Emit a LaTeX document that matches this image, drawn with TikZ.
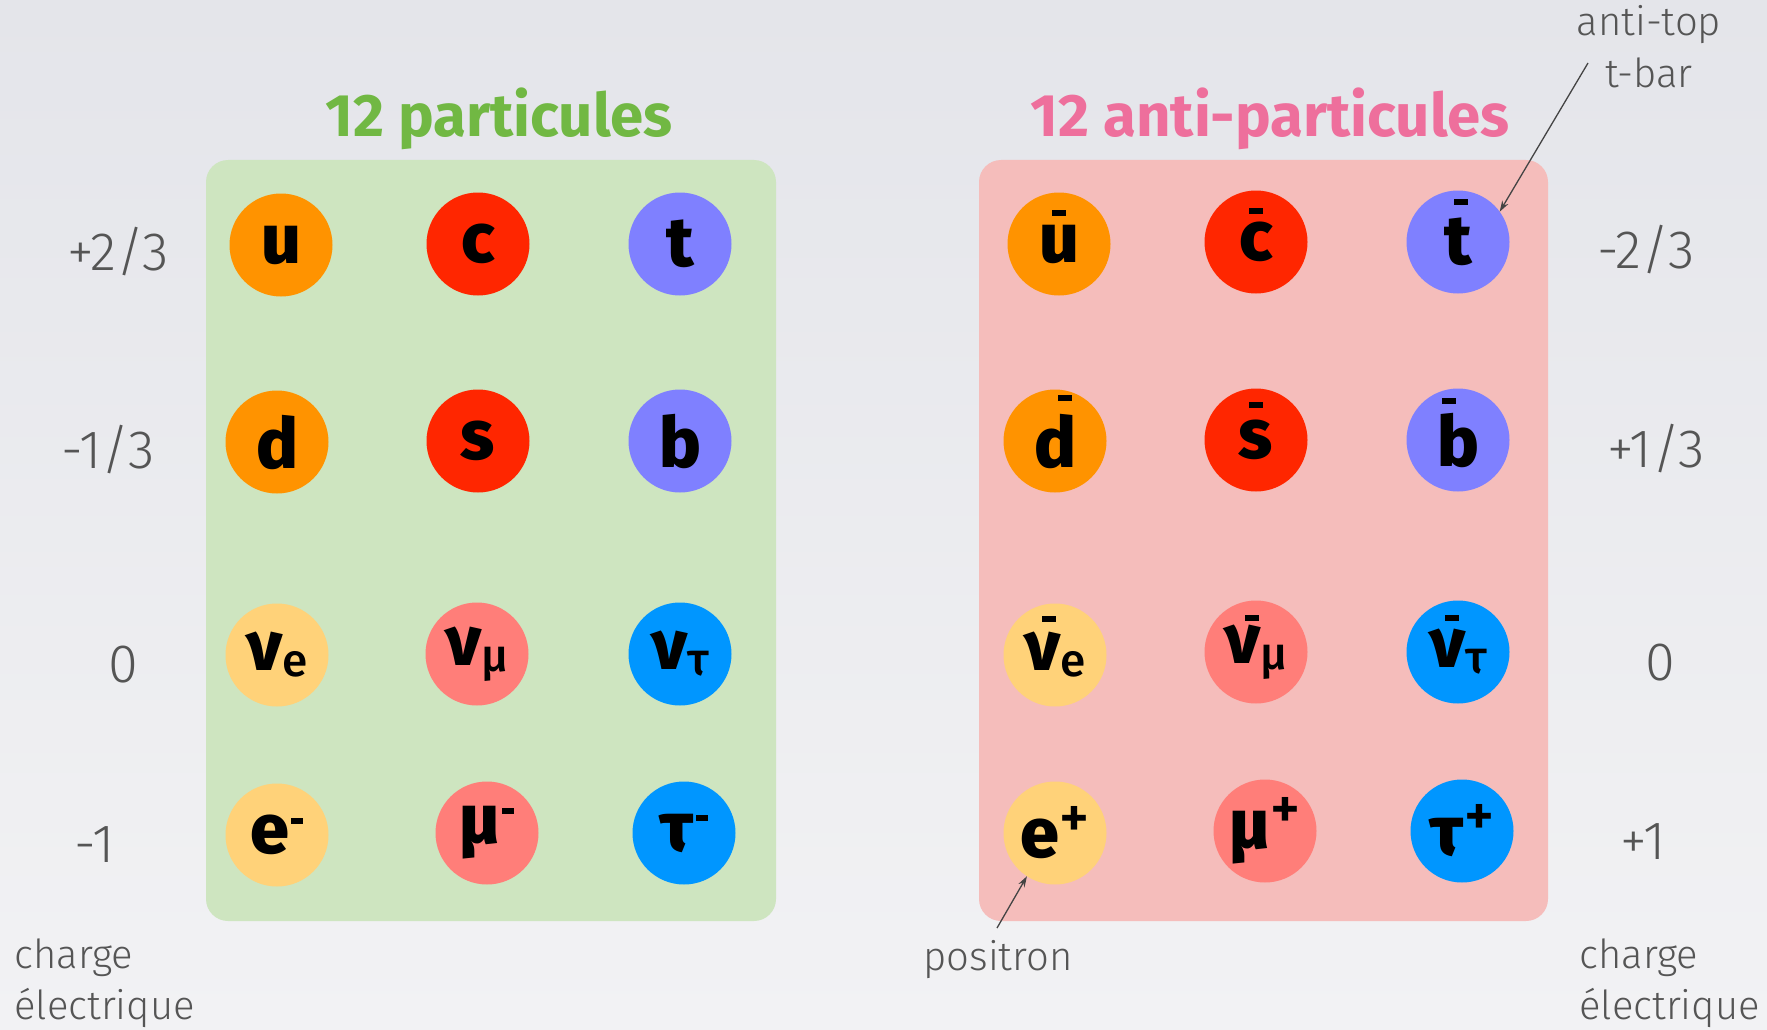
\documentclass[tikz,border=0pt]{standalone}
\usepackage{fontspec}
\setmainfont{Fira Sans Light}
\newfontfamily\pfont{Fira Sans ExtraBold}
\newfontfamily\rfont{Fira Sans Medium}
\newfontfamily\tfont{Fira Sans Bold}
\usetikzlibrary{arrows.meta,shapes.geometric}
\definecolor{cOr}{HTML}{FF9300}
\definecolor{cRd}{HTML}{FF2600}
\definecolor{cPu}{HTML}{7F80FF}
\definecolor{cLo}{HTML}{FFD279}
\definecolor{cSa}{HTML}{FF7E79}
\definecolor{cBl}{HTML}{0096FF}
\definecolor{gbox}{HTML}{CEE5C0}
\definecolor{pbox}{HTML}{F5BDBB}
\definecolor{tgreen}{HTML}{71B843}
\definecolor{tpink}{HTML}{EE6F9C}
\definecolor{lbl}{HTML}{555555}
\definecolor{bgtop}{HTML}{E4E5EA}
\definecolor{bgbot}{HTML}{F2F2F4}
\definecolor{arrowc}{HTML}{444444}
\newcommand\subx[1]{\raisebox{-6pt}{\rfont\fontsize{46}{46}\selectfont #1}}
\newcommand\supm{\kern2pt\rule[30pt]{12pt}{6pt}}
\newcommand\supp{\raisebox{20pt}{\rfont\fontsize{58}{58}\selectfont +}}
\newcommand\abar[3]{\fill ([shift={(#2-7,#3-3)}]#1.center) rectangle ++(14,6);}
\begin{document}
\begin{tikzpicture}[x=1pt,y=-1pt,
  ptc/.style={circle, minimum size=103pt, inner sep=0pt, outer sep=0pt,
    font=\pfont\fontsize{70}{70}\selectfont, text=black},
  chg/.style={anchor=base, text=lbl, font=\fontsize{54}{54}\selectfont},
  note/.style={anchor=base west, text=lbl, font=\fontsize{40}{51}\selectfont, align=left},
  ttl/.style={anchor=base, font=\tfont\fontsize{60}{60}\selectfont},
  conn/.style={draw=arrowc, line width=1.3pt, -{Stealth[length=11pt,width=7pt]}},
  panel/.style={rounded corners=22pt}]
\useasboundingbox (0,0) rectangle (1767,1030);
\shade[top color=bgtop, bottom color=bgbot] (0,0) rectangle (1767,1030);
% panels
\fill[panel, gbox] (206,160) rectangle (776,921);
\fill[panel, pbox] (979,160) rectangle (1548,921);
% titles
\node[ttl, text=tgreen] (tl) at (499,137) {12 particules};
\node[ttl, text=tpink] (tr) at (1270,137) {12 anti-particules};
% particles
\node[ptc, fill=cOr] (u) at (281,245) {u};
\node[ptc, fill=cRd] (c) at (478,244) {c};
\node[ptc, fill=cPu] (t) at (680,244) {t};
\node[ptc, fill=cOr] (d) at (277,442) {d};
\node[ptc, fill=cRd] (s) at (478,441) {s};
\node[ptc, fill=cPu] (b) at (680,441) {b};
\node[ptc, fill=cLo] (ve) at (277,655) {ν\subx{e}};
\node[ptc, fill=cSa] (vm) at (477,654) {ν\subx{μ}};
\node[ptc, fill=cBl] (vt) at (680,654) {ν\subx{τ}};
\node[ptc, fill=cLo] (em) at (277,835) {e\supm};
\node[ptc, fill=cSa] (mm) at (487,833) {μ\supm};
\node[ptc, fill=cBl] (tm) at (684,833) {τ\supm};
% anti-particles
\node[ptc, fill=cOr] (ub) at (1059,244) {u};
\node[ptc, fill=cRd] (cb) at (1256,242) {c};
\node[ptc, fill=cPu] (tb) at (1458,242) {t};
\node[ptc, fill=cOr] (db) at (1055,441) {d};
\node[ptc, fill=cRd] (sb) at (1256,440) {s};
\node[ptc, fill=cPu] (bb) at (1458,440) {b};
\node[ptc, fill=cLo] (veb) at (1055,655) {ν\subx{e}};
\node[ptc, fill=cSa] (vmb) at (1256,652) {ν\subx{μ}};
\node[ptc, fill=cBl] (vtb) at (1458,652) {ν\subx{τ}};
\node[ptc, fill=cLo] (ep) at (1055,833) {e\supp};
\node[ptc, fill=cSa] (mp) at (1265,831) {μ\supp};
\node[ptc, fill=cBl] (tp) at (1462,831) {τ\supp};
% bars
\abar{ub}{0}{-31}
\abar{cb}{0}{-31}
\abar{tb}{3}{-40}
\abar{db}{10}{-43}
\abar{sb}{0}{-35}
\abar{bb}{-9}{-39}
\abar{veb}{-6}{-36}
\abar{vmb}{-4}{-34}
\abar{vtb}{-6}{-34}
% charges
\node[chg] (l1) at (118,270) {+2/3};
\node[chg] (l2) at (108,468) {-1/3};
\node[chg] (l3) at (123,682) {0};
\node[chg] (l4) at (95,862) {-1};
\node[chg] (r1) at (1646,268) {-2/3};
\node[chg] (r2) at (1656,467) {+1/3};
\node[chg] (r3) at (1660,680) {0};
\node[chg] (r4) at (1643,859) {+1};
% notes
\node[note] (cl) at (11,1019) {charge\\électrique};
\node[note] (cr) at (1576,1019) {charge\\électrique};
\node[note, anchor=base] (pos) at (998,970) {positron};
\node[note, anchor=base] (at1) at (1649,36) {anti-top};
\node[note, anchor=base] (at2) at (1649,88) {t-bar};
% arrows
\coordinate (atstart) at (1588,63);
\coordinate (posstart) at (997,928);
\draw[conn] (atstart) -- (tb.36);
\draw[conn] (posstart) -- (ep.237);
\end{tikzpicture}
\end{document}
